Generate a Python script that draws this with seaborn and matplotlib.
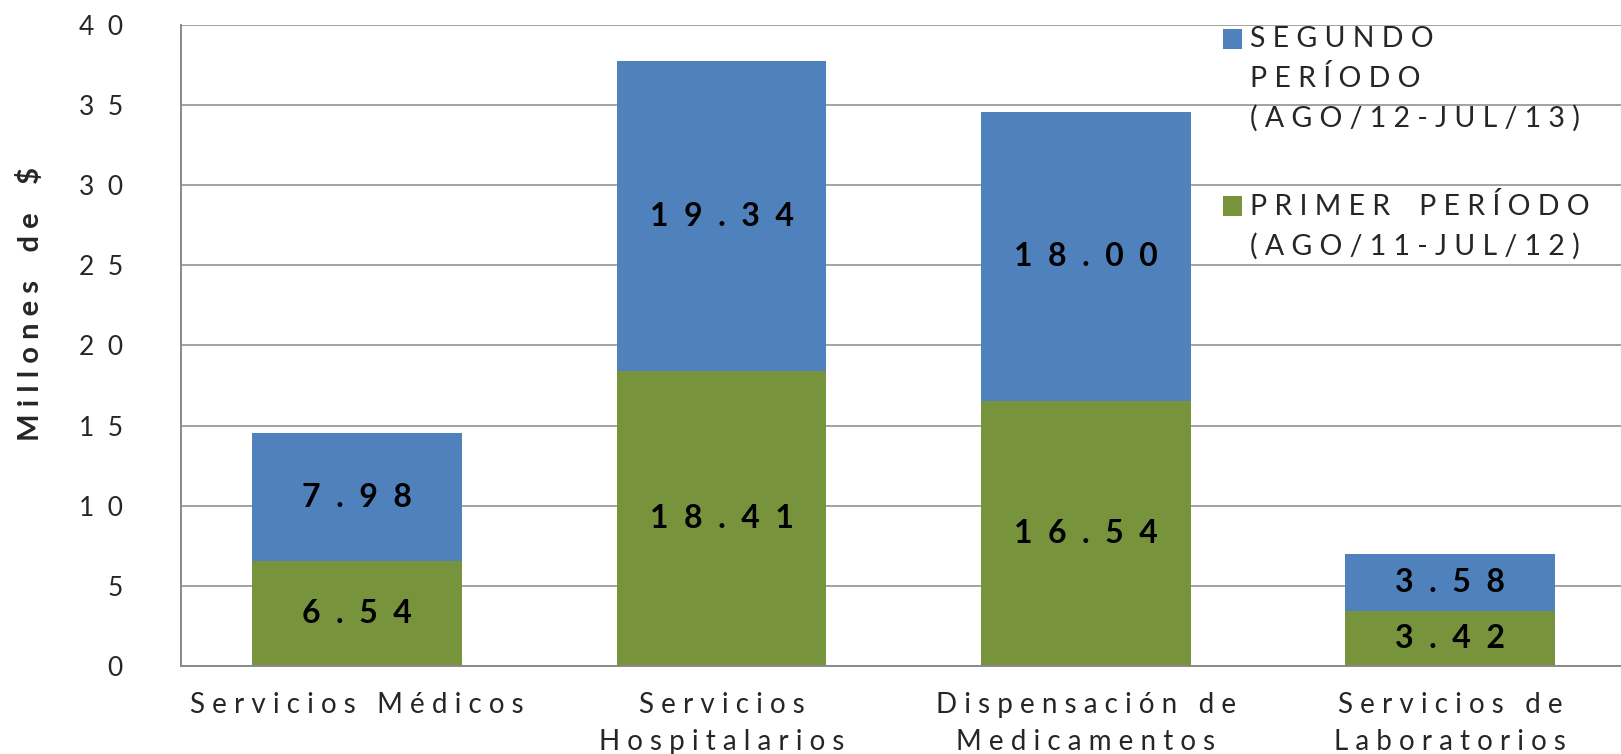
import matplotlib
matplotlib.use("Agg")
import matplotlib.pyplot as plt
from matplotlib.patches import Rectangle
import seaborn as sns

categories = ["Servicios Médicos", "Servicios\nHospitalarios",
              "Dispensación de\nMedicamentos", "Servicios de\nLaboratorios"]
primer = [6.54, 18.41, 16.54, 3.42]
segundo = [7.98, 19.34, 18.00, 3.58]
y_ticks = [0, 5, 10, 15, 20, 25, 30, 35, 40]
legend_labels = ["SEGUNDO\nPERÍODO\n(AGO/12-JUL/13)",
                 "PRIMER PERÍODO\n(AGO/11-JUL/12)"]

BLUE = "#4F81BD"
GREEN = "#77933C"
GRID = "#898989"
W, H = 1621, 754


def spaced(s, gap=" ", word_gap="   "):
    # imita el espaciado entre letras del gráfico de Excel
    lines = []
    for line in s.split("\n"):
        lines.append(word_gap.join(gap.join(w) for w in line.split(" ")))
    return "\n".join(lines)


sns.set_style("white")
plt.rcParams["font.family"] = ["Lato", "DejaVu Sans"]

fig = plt.figure(figsize=(W / 100, H / 100), dpi=100)
ax = fig.add_axes([181 / W, 88 / H, 1 - 181 / W, 641 / H])

totals = [a + b for a, b in zip(primer, segundo)]
x = list(range(len(categories)))
sns.barplot(x=x, y=totals, color=BLUE, width=0.576, saturation=1, linewidth=0,
            ax=ax, zorder=2)
sns.barplot(x=x, y=primer, color=GREEN, width=0.576, saturation=1, linewidth=0,
            ax=ax, zorder=2)

for i in x:
    ax.text(i, primer[i] / 2, spaced(f"{primer[i]:.2f}", gap="  "), ha="center",
            va="center", fontsize=23, fontweight="bold", color="black", zorder=3)
    ax.text(i, primer[i] + segundo[i] / 2, spaced(f"{segundo[i]:.2f}", gap="  "),
            ha="center", va="center", fontsize=23, fontweight="bold", color="black",
            zorder=3)

ax.set_ylim(0, 40)
ax.set_xlim(-0.483, 3.468)
ax.set_yticks(y_ticks)
ax.set_yticklabels([spaced(str(t), gap="  ") for t in y_ticks], fontsize=19)
ax.set_xticks(x)
ax.set_xticklabels([spaced(c) for c in categories], fontsize=20, linespacing=1.5)
ax.tick_params(axis="y", length=0, pad=42)
ax.tick_params(axis="x", length=0, pad=19)
ax.yaxis.grid(True, color=GRID, linewidth=1.1, zorder=0)
ax.set_axisbelow(True)
for side in ["top", "right"]:
    ax.spines[side].set_visible(False)
for side in ["left", "bottom"]:
    ax.spines[side].set_color(GRID)
    ax.spines[side].set_linewidth(1.4)

ax.set_ylabel(spaced("Millones de $", gap=" ", word_gap="    "), fontsize=21,
              fontweight="bold")
ax.yaxis.set_label_coords(-0.095, 0.565)

# leyenda dibujada a mano: el cuadro va alineado con la primera línea
legend_colors = [BLUE, GREEN]
legend_tops = [26, 193]
for label, color, top in zip(legend_labels, legend_colors, legend_tops):
    fig.patches.append(Rectangle((1223 / W, 1 - (top + 23) / H), 19 / W, 20 / H,
                                 transform=fig.transFigure, facecolor=color,
                                 edgecolor="none"))
    fig.text(1250 / W, 1 - top / H, spaced(label, gap=" ", word_gap="    "),
             fontsize=20.5, va="top", ha="left", linespacing=1.58)

fig.savefig("out.png", dpi=100)
